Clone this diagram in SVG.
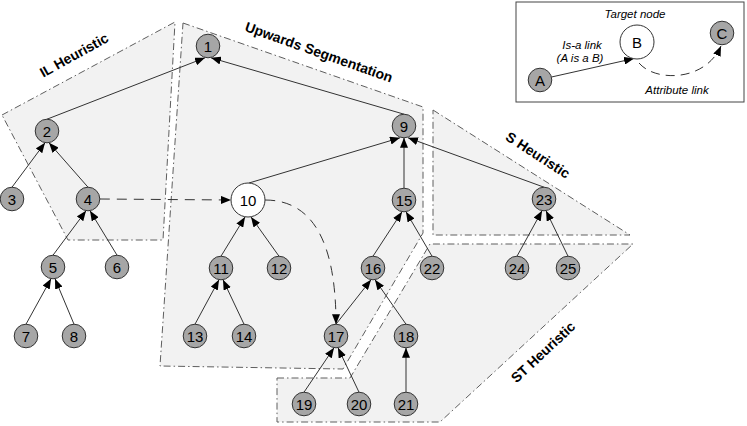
<svg xmlns="http://www.w3.org/2000/svg" width="747" height="426" viewBox="0 0 747 426">
<style>
.region{fill:#f2f2f2;stroke:#5e5e5e;stroke-width:1;stroke-dasharray:7,3,1.5,3}
.rlabel{font-family:"Liberation Sans",Arial,sans-serif;font-weight:bold;font-size:14px;fill:#000;text-anchor:middle}
.n{fill:#a6a6a6;stroke:#333;stroke-width:1}
.w{fill:#fff;stroke:#333;stroke-width:1}
.t{font-family:"Liberation Sans",Arial,sans-serif;font-size:15px;fill:#000;text-anchor:middle}
.lt{font-family:"Liberation Sans",Arial,sans-serif;font-style:italic;font-size:11.5px;fill:#000;text-anchor:middle}
.e{stroke:#333;stroke-width:1;fill:none;marker-end:url(#ah)}
.d{stroke:#333;stroke-width:1;fill:none;stroke-dasharray:10,7;marker-end:url(#ah)}
</style>
<defs>
<marker id="ah" markerWidth="11" markerHeight="8" refX="10" refY="4" orient="auto" markerUnits="userSpaceOnUse">
<path d="M0,0 L10,4 L0,8 z" fill="#000"/>
</marker>
</defs>
<rect width="747" height="426" fill="#fff"/>
<g id="regions">
<polygon class="region" points="2,115 175,22 163,240 68,240"/>
<polygon class="region" points="183,23 423,107 423,233 343,369 160,366"/>
<polygon class="region" points="433,110 630,235 433,235"/>
<polygon class="region" points="277,378 350,378 430,244 633,244 440,422 277,422"/>
<text class="rlabel" transform="translate(74,55) rotate(-29)" y="5">IL Heuristic</text>
<text class="rlabel" transform="translate(319,52) rotate(19.5)" y="5">Upwards Segmentation</text>
<text class="rlabel" transform="translate(538,155) rotate(33)" y="5">S Heuristic</text>
<text class="rlabel" transform="translate(543,352) rotate(-43)" y="5">ST Heuristic</text>
</g>
<g id="legend">
<rect x="516" y="2" width="228" height="100" fill="#fff" stroke="#444" stroke-width="1"/>
<path class="e" d="M551.5,77 L634,58.5"/>
<path class="d" style="stroke-dasharray:9,6" d="M639,63 C655,82 705,82 721,46"/>
<circle class="n" cx="540" cy="80" r="11.8"/><text class="t" x="540" y="85.5">A</text>
<circle class="w" cx="637" cy="42" r="17"/><text class="t" x="637" y="47.5">B</text>
<circle class="n" cx="722" cy="33" r="11.8"/><text class="t" x="722" y="38.5">C</text>
<text class="lt" x="635" y="18">Target node</text>
<text class="lt" x="582" y="49">Is-a link</text>
<text class="lt" x="580" y="62">(A is a B)</text>
<text class="lt" x="677" y="94">Attribute link</text>
</g>
<g id="connectors">
<path class="e" d="M47,119.2 L205,57.8"/>
<path class="e" d="M404,114.2 L211,57.8"/>
<path class="e" d="M12,187.2 L45,142.8"/>
<path class="e" d="M88,187.2 L49,142.8"/>
<path class="e" d="M53,255.2 L86,210.8"/>
<path class="e" d="M117,255.2 L90,210.8"/>
<path class="e" d="M26,324.2 L51,278.8"/>
<path class="e" d="M74,324.2 L55,278.8"/>
<path class="e" d="M249,183 L400,137.8"/>
<path class="e" d="M404,188.2 L404,137.8"/>
<path class="e" d="M544,187.2 L408,137.8"/>
<path class="e" d="M221,256.2 L245,217"/>
<path class="e" d="M279,256.2 L251,217"/>
<path class="e" d="M195,324.2 L219,279.8"/>
<path class="e" d="M244,324.2 L223,279.8"/>
<path class="e" d="M373,256.2 L402,211.8"/>
<path class="e" d="M432,256.2 L406,211.8"/>
<path class="e" d="M336,324.2 L371,279.8"/>
<path class="e" d="M406,324.2 L375,279.8"/>
<path class="e" d="M304,392.2 L334,347.8"/>
<path class="e" d="M359,392.2 L338,347.8"/>
<path class="e" d="M406,392.2 L406,347.8"/>
<path class="e" d="M517,256.2 L542,210.8"/>
<path class="e" d="M568,256.2 L546,210.8"/>
<path class="d" d="M99.8,199 L231,200"/>
<path class="d" d="M265,200 Q336,200 336,324.2"/>
</g>
<g id="node1"><circle class="n" cx="208" cy="46" r="11.8"/><text class="t" x="208" y="51.5">1</text></g>
<g id="node2"><circle class="n" cx="47" cy="131" r="11.8"/><text class="t" x="47" y="136.5">2</text></g>
<g id="node3"><circle class="n" cx="12" cy="199" r="11.8"/><text class="t" x="12" y="204.5">3</text></g>
<g id="node4"><circle class="n" cx="88" cy="199" r="11.8"/><text class="t" x="88" y="204.5">4</text></g>
<g id="node5"><circle class="n" cx="53" cy="267" r="11.8"/><text class="t" x="53" y="272.5">5</text></g>
<g id="node6"><circle class="n" cx="117" cy="267" r="11.8"/><text class="t" x="117" y="272.5">6</text></g>
<g id="node7"><circle class="n" cx="26" cy="336" r="11.8"/><text class="t" x="26" y="341.5">7</text></g>
<g id="node8"><circle class="n" cx="74" cy="336" r="11.8"/><text class="t" x="74" y="341.5">8</text></g>
<g id="node9"><circle class="n" cx="404" cy="126" r="11.8"/><text class="t" x="404" y="131.5">9</text></g>
<g id="node10"><circle class="w" cx="248" cy="200" r="17"/><text class="t" x="248" y="205.5">10</text></g>
<g id="node11"><circle class="n" cx="221" cy="268" r="11.8"/><text class="t" x="221" y="273.5">11</text></g>
<g id="node12"><circle class="n" cx="279" cy="268" r="11.8"/><text class="t" x="279" y="273.5">12</text></g>
<g id="node13"><circle class="n" cx="195" cy="336" r="11.8"/><text class="t" x="195" y="341.5">13</text></g>
<g id="node14"><circle class="n" cx="244" cy="336" r="11.8"/><text class="t" x="244" y="341.5">14</text></g>
<g id="node15"><circle class="n" cx="404" cy="200" r="11.8"/><text class="t" x="404" y="205.5">15</text></g>
<g id="node16"><circle class="n" cx="373" cy="268" r="11.8"/><text class="t" x="373" y="273.5">16</text></g>
<g id="node17"><circle class="n" cx="336" cy="336" r="11.8"/><text class="t" x="336" y="341.5">17</text></g>
<g id="node18"><circle class="n" cx="406" cy="336" r="11.8"/><text class="t" x="406" y="341.5">18</text></g>
<g id="node19"><circle class="n" cx="304" cy="404" r="11.8"/><text class="t" x="304" y="409.5">19</text></g>
<g id="node20"><circle class="n" cx="359" cy="404" r="11.8"/><text class="t" x="359" y="409.5">20</text></g>
<g id="node21"><circle class="n" cx="406" cy="404" r="11.8"/><text class="t" x="406" y="409.5">21</text></g>
<g id="node22"><circle class="n" cx="432" cy="268" r="11.8"/><text class="t" x="432" y="273.5">22</text></g>
<g id="node23"><circle class="n" cx="544" cy="199" r="11.8"/><text class="t" x="544" y="204.5">23</text></g>
<g id="node24"><circle class="n" cx="517" cy="268" r="11.8"/><text class="t" x="517" y="273.5">24</text></g>
<g id="node25"><circle class="n" cx="568" cy="268" r="11.8"/><text class="t" x="568" y="273.5">25</text></g>
</svg>
